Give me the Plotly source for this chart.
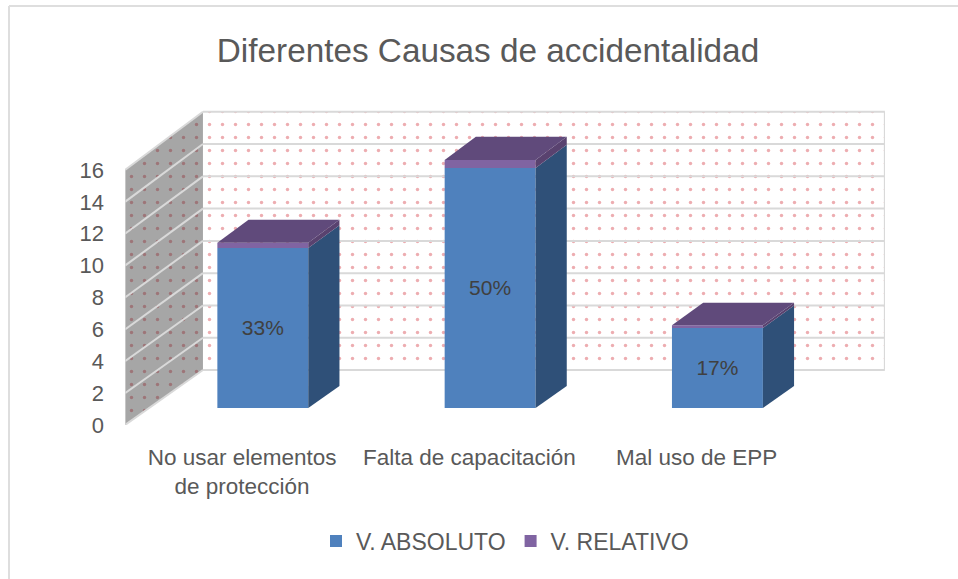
import plotly.graph_objects as go

categories = ["No usar elementos<br>de protección", "Falta de capacitación", "Mal uso de EPP"]
absolute_values = [10, 15, 5]
relative_values = [0.33, 0.50, 0.17]
y_ticks = [0, 2, 4, 6, 8, 10, 12, 14, 16]
series_names = ["V. ABSOLUTO", "V. RELATIVO"]
title_text = "Diferentes Causas de accidentalidad"

# Oblique projection parameters of the fake-3D box
DX, DY, GROW = 0.343, 3.45, 0.0126
BAR_W = 0.40
D_FRONT, D_BACK = 0.31, 0.71
FONT = "Liberation Sans"
TXT = "#595959"
PX_X, PX_Y = 227.3, 15.94
L, R, T, B = 125, 73, 105, 154
W, H = 958, 579
xr = [-0.5, -0.5 + (W - L - R) / PX_X]
yr = [0, (H - T - B) / PX_Y]
XMIN, XMAX_FRONT = -0.5, 2.5
YMAX = y_ticks[-1]


def proj(x, v, d):
    return x + d * DX, v * (1 + GROW * d) + d * DY


def poly(points):
    pts = [proj(*p) for p in points] + [proj(*points[0])]
    return [p[0] for p in pts], [p[1] for p in pts]


fig = go.Figure()

# back wall
xs, ys = poly([(XMIN, 0, 1), (XMAX_FRONT, 0, 1), (XMAX_FRONT, YMAX, 1), (XMIN, YMAX, 1)])
fig.add_trace(go.Scatter(x=xs, y=ys, mode="none", fill="toself", fillcolor="white",
                         fillpattern=dict(shape=".", size=13, solidity=0.055, fgcolor="#dc5c64", bgcolor="white"),
                         hoverinfo="skip", showlegend=False))
# side wall
xs, ys = poly([(XMIN, 0, 0), (XMIN, 0, 1), (XMIN, YMAX, 1), (XMIN, YMAX, 0)])
fig.add_trace(go.Scatter(x=xs, y=ys, mode="none", fill="toself", fillcolor="#a6a6a6",
                         fillpattern=dict(shape=".", size=13, solidity=0.055, fgcolor="#94444a", bgcolor="#a6a6a6"),
                         hoverinfo="skip", showlegend=False))
# gridlines
for t in y_ticks:
    a = proj(XMIN, t, 0)
    b = proj(XMIN, t, 1)
    c = proj(XMAX_FRONT, t, 1)
    fig.add_trace(go.Scatter(x=[a[0], b[0]], y=[a[1], b[1]], mode="lines",
                             line=dict(color="#d9d9d9", width=2), hoverinfo="skip", showlegend=False))
    fig.add_trace(go.Scatter(x=[b[0], c[0]], y=[b[1], c[1]], mode="lines",
                             line=dict(color="#d9d9d9", width=2), hoverinfo="skip", showlegend=False))
# wall edges
xs, ys = poly([(XMAX_FRONT, 0, 1), (XMAX_FRONT, YMAX, 1)])
fig.add_trace(go.Scatter(x=xs[:2], y=ys[:2], mode="lines", line=dict(color="#d9d9d9", width=2),
                         hoverinfo="skip", showlegend=False))
xs, ys = poly([(XMIN, 0, 0), (XMIN, YMAX, 0)])
fig.add_trace(go.Scatter(x=xs[:2], y=ys[:2], mode="lines", line=dict(color="#d0d0d0", width=1.5),
                         hoverinfo="skip", showlegend=False))

# bars
cat_pos = list(range(len(categories)))
shift = D_FRONT * DX
base_v = D_FRONT * DY
g = 1 + GROW * D_FRONT
labels = [f"{round(r * 100)}%" for r in relative_values]
fig.add_trace(go.Bar(x=[c + shift for c in cat_pos], y=[v * g for v in absolute_values],
                     base=[base_v] * 3, width=BAR_W, name=series_names[0],
                     marker=dict(color="#4f81bd", line=dict(width=0)),
                     text=labels, textposition="inside", insidetextanchor="middle", textangle=0,
                     insidetextfont=dict(family=FONT, size=21, color="#404040"),
                     hoverinfo="skip", xaxis="x2", yaxis="y2"))
fig.add_trace(go.Bar(x=[c + shift for c in cat_pos], y=[r * g for r in relative_values],
                     base=[base_v + v * g for v in absolute_values], width=BAR_W, name=series_names[1],
                     marker=dict(color="#8064a2", line=dict(width=0)),
                     hoverinfo="skip", xaxis="x2", yaxis="y2"))

for c, a, r in zip(cat_pos, absolute_values, relative_values):
    x0, x1 = c - BAR_W / 2, c + BAR_W / 2
    top = a + r
    for pts, col in [
        ([(x1, 0, D_FRONT), (x1, 0, D_BACK), (x1, a, D_BACK), (x1, a, D_FRONT)], "#2f5078"),
        ([(x1, a, D_FRONT), (x1, a, D_BACK), (x1, top, D_BACK), (x1, top, D_FRONT)], "#59426f"),
        ([(x0, top, D_FRONT), (x1, top, D_FRONT), (x1, top, D_BACK), (x0, top, D_BACK)], "#604a7b"),
    ]:
        xs, ys = poly(pts)
        fig.add_trace(go.Scatter(x=xs, y=ys, mode="none", fill="toself", fillcolor=col,
                                 hoverinfo="skip", showlegend=False, xaxis="x2", yaxis="y2"))

frame_y = (H - B - 6) / (H - T - B)
frame_x = (9 - L) / (W - L - R)
fig.update_layout(
    width=W, height=H, margin=dict(l=L, r=R, t=T, b=B),
    paper_bgcolor="white", plot_bgcolor="rgba(0,0,0,0)",
    barmode="overlay",
    font=dict(family=FONT, color=TXT, size=23),
    title=dict(text=title_text, x=488 / W, xanchor="center", y=1 - 50 / H, yanchor="middle",
               font=dict(family=FONT, size=33.3, color=TXT)),
    xaxis=dict(range=xr, tickmode="array", tickvals=[c + 0.015 for c in cat_pos], ticktext=categories,
               tickfont=dict(size=22.5),
               showgrid=False, zeroline=False, showline=False, ticks="", ticklabelstandoff=16),
    yaxis=dict(range=yr, tickmode="array", tickvals=y_ticks, showgrid=False, zeroline=False,
               tickfont=dict(size=22),
               showline=False, ticks="", ticklabelstandoff=20),
    xaxis2=dict(range=xr, overlaying="x", visible=False),
    yaxis2=dict(range=yr, overlaying="y", visible=False),
    legend=dict(orientation="h", x=0.5, xanchor="center", y=(425 - 541) / (H - T - B), yanchor="middle",
                font=dict(family=FONT, size=23, color=TXT), bgcolor="rgba(0,0,0,0)"),
    showlegend=True,
    shapes=[dict(type="line", xref="paper", yref="paper",
                 x0=frame_x, x1=(W - L) / (W - L - R), y0=frame_y, y1=frame_y,
                 line=dict(color="#dedede", width=2)),
            dict(type="line", xref="paper", yref="paper",
                 x0=frame_x, x1=frame_x, y0=-B / (H - T - B), y1=frame_y,
                 line=dict(color="#dedede", width=2))],
)

fig.write_html("out.html", config={"displayModeBar": False},
               post_script="document.body.style.margin='0';document.documentElement.style.overflow='hidden';")
